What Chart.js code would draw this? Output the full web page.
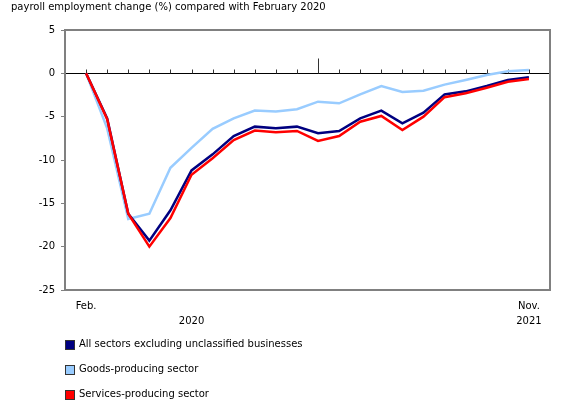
<!DOCTYPE html>
<html>
<head>
<meta charset="utf-8">
<script src="https://cdn.jsdelivr.net/npm/chart.js@4.4.1/dist/chart.umd.min.js"></script>
<style>
  body { margin: 0; background: #fff; font-family: "DejaVu Sans", Verdana, sans-serif; }
  #wrap { position: relative; width: 580px; height: 410px; }
  #title { position: absolute; left: 11px; top: 1px; font-size: 10px; line-height: 12px; color: #000; }
  #legend { position: absolute; left: 65px; top: 338px; font-size: 10px; color: #000; }
  .item { height: 25px; display: flex; align-items: flex-start; }
  .box { width: 10px; height: 10px; border: 1px solid #333; box-sizing: border-box; margin-top: 2px; margin-right: 4px; }
</style>
</head>
<body>
<div id="wrap">
  <canvas id="chart" width="580" height="410"></canvas>
  <div id="title">payroll employment change (%) compared with February 2020</div>
  <div id="legend"></div>
</div>
<script>
// months from Feb. 2020 to Nov. 2021
const months = ['Feb.', 'Mar.', 'Apr.', 'May', 'June', 'July', 'Aug.', 'Sept.', 'Oct.', 'Nov.', 'Dec.',
  'Jan.', 'Feb.', 'Mar.', 'Apr.', 'May', 'June', 'July', 'Aug.', 'Sept.', 'Oct.', 'Nov.'];
const years = ['2020', '2021'];

const seriesNames = ['All sectors excluding unclassified businesses', 'Goods-producing sector', 'Services-producing sector'];
const seriesColors = ['#000080', '#99ccff', '#ff0000'];

const allSectors = [0, -5.2, -16.2, -19.3, -15.8, -11.2, -9.35, -7.25, -6.15, -6.35, -6.15,
  -6.9, -6.65, -5.2, -4.3, -5.77, -4.54, -2.43, -2.08, -1.47, -0.77, -0.46];
const goods = [0, -6.35, -16.8, -16.2, -10.9, -8.6, -6.4, -5.2, -4.3, -4.4, -4.15,
  -3.27, -3.46, -2.43, -1.47, -2.16, -2.0, -1.3, -0.77, -0.2, 0.23, 0.38];
const services = [0, -5.3, -16.2, -20.0, -16.7, -11.7, -9.8, -7.7, -6.6, -6.8, -6.65,
  -7.8, -7.23, -5.58, -4.92, -6.54, -5.0, -2.75, -2.3, -1.66, -0.97, -0.66];

const yMin = -25;
const yMax = 5;
const yStep = 5;

const font = { family: '"DejaVu Sans", Verdana, sans-serif', size: 10, lineHeight: 1.5 };
const last = months.length - 1;

function toPoints(values) {
  return values.map((v, i) => ({ x: i, y: v }));
}

// x tick text: first and last month, year under the middle of its months
function xTickLabel(value) {
  const month = (value === 0 || value === last) ? months[value] : '';
  let year = '';
  if (value === Math.floor(months.indexOf('Dec.') / 2)) year = years[0];
  if (value === last) year = years[1];
  if (!month && !year) return '';
  return [month, year];
}

// zero line with the month ticks, taller at January
const zeroLine = {
  id: 'zeroLine',
  beforeDatasetsDraw(chart) {
    const { ctx, chartArea, scales } = chart;
    const y0 = Math.round(scales.y.getPixelForValue(0)) + 0.5;
    ctx.save();
    ctx.strokeStyle = '#000';
    ctx.lineWidth = 1;
    ctx.beginPath();
    ctx.moveTo(chartArea.left, y0);
    ctx.lineTo(chartArea.right, y0);
    ctx.stroke();
    ctx.strokeStyle = '#333';
    months.forEach((m, i) => {
      const x = Math.round(scales.x.getPixelForValue(i)) + 0.5;
      const h = m === 'Jan.' ? 15 : 4;
      ctx.beginPath();
      ctx.moveTo(x, y0);
      ctx.lineTo(x, y0 - h);
      ctx.stroke();
    });
    ctx.restore();
  },
  afterDraw(chart) {
    const { ctx, chartArea } = chart;
    ctx.save();
    ctx.strokeStyle = '#808080';
    ctx.lineWidth = 2;
    ctx.strokeRect(chartArea.left, chartArea.top, chartArea.right - chartArea.left, chartArea.bottom - chartArea.top);
    ctx.restore();
  }
};

const values = [allSectors, goods, services];
const drawOrder = [2, 3, 1];

const chart = new Chart(document.getElementById('chart'), {
  type: 'line',
  data: {
    datasets: values.map((v, i) => ({
      label: seriesNames[i],
      data: toPoints(v),
      borderColor: seriesColors[i],
      backgroundColor: seriesColors[i],
      borderWidth: 2.5,
      pointRadius: 0,
      tension: 0,
      order: drawOrder[i]
    }))
  },
  options: {
    responsive: false,
    animation: false,
    layout: { padding: { top: 30, right: 30, left: 0, bottom: 0 } },
    plugins: {
      legend: { display: false },
      tooltip: { enabled: false }
    },
    scales: {
      x: {
        type: 'linear',
        min: -1,
        max: months.length,
        afterFit(scale) { scale.height = 120; },
        afterBuildTicks(scale) {
          scale.ticks = months.map((m, i) => ({ value: i }));
        },
        ticks: {
          autoSkip: false,
          maxRotation: 0,
          padding: 9,
          color: '#000',
          font: font,
          callback: xTickLabel
        },
        grid: { display: false, drawTicks: false },
        border: { display: false }
      },
      y: {
        min: yMin,
        max: yMax,
        afterFit(scale) { scale.width = 65; },
        ticks: { stepSize: yStep, padding: 6, color: '#000', font: font },
        grid: { drawOnChartArea: false, tickLength: 4, color: '#808080' },
        border: { display: false }
      }
    }
  },
  plugins: [zeroLine]
});

// legend under the chart
const legend = document.getElementById('legend');
chart.data.datasets.forEach(ds => {
  const item = document.createElement('div');
  item.className = 'item';
  item.innerHTML = `<span class="box" style="background:${ds.borderColor}"></span><span>${ds.label}</span>`;
  legend.appendChild(item);
});
</script>
</body>
</html>
